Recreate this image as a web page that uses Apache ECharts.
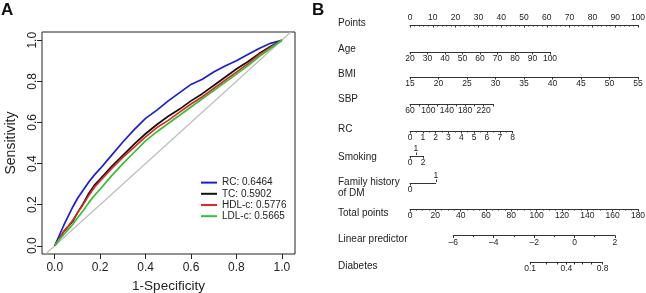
<!DOCTYPE html>
<html>
<head>
<meta charset="utf-8">
<script src="https://cdn.jsdelivr.net/npm/echarts@6/dist/echarts.min.js"></script>
<style>
  html, body { margin: 0; padding: 0; background: #fff; }
  #chart { width: 646px; height: 293px; }
</style>
</head>
<body>
<div id="chart"></div>
<script>
/* ---- panel A: ROC curves ---- */
const rocNames = ['RC: 0.6464', 'TC: 0.5902', 'HDL-c: 0.5776', 'LDL-c: 0.5665']
const rocColors = ['#1c1ce0', '#111111', '#ee2222', '#2ec42e']
const rocFpr = [0, .02, .04, .06, .08, .1, .125, .15, .175, .2, .25, .3, .35, .4, .45, .5, .55, .6, .65, .7, .75, .8, .85, .9, .95, 1]
const rcTpr  = [0, .05, .10, .145, .19, .23, .27, .31, .345, .375, .44, .505, .565, .62, .66, .705, .745, .785, .81, .845, .875, .90, .93, .96, .985, 1]
const tcTpr  = [0, .035, .07, .095, .12, .16, .205, .255, .295, .325, .385, .44, .495, .545, .59, .63, .665, .705, .74, .78, .82, .86, .895, .935, .97, 1]
const hdlTpr = [0, .035, .07, .095, .125, .16, .2, .245, .285, .315, .375, .43, .48, .53, .575, .61, .65, .69, .725, .765, .805, .845, .885, .93, .965, 1]
const ldlTpr = [0, .03, .055, .08, .105, .135, .17, .21, .245, .275, .34, .40, .455, .51, .555, .595, .635, .675, .715, .755, .795, .835, .875, .92, .96, 1]
const rocTicks = [0, 0.2, 0.4, 0.6, 0.8, 1.0]
const diagEnds = [-0.04, 1.04]

/* ---- panel B: nomogram scales ---- */
const pointsRange = [0, 100]
const ageRange = [20, 100], agePts = [0, 61.4]
const bmiRange = [15, 55], bmiPts = [0, 100]
const sbpRange = [60, 240], sbpPts = [0, 36.3], sbpLabels = [60, 100, 140, 180, 220]
const rcRange = [0, 8], rcPts = [0, 45]
const smokingLevels = ['0', '1', '2'], smokingPts = [0, 2.6, 5.7]
const familyLevels = ['0', '1'], familyPts = [0, 11.3]
const totalRange = [0, 180]
const lpRange = [-6, 2], lpTotal = [34.2, 161.8]
const diabetesProb = [0.1, 0.2, 0.3, 0.4, 0.5, 0.6, 0.7, 0.8]
const diabetesLabels = [0.1, 0.4, 0.8]

const rowNames = ['Points', 'Age', 'BMI', 'SBP', 'RC', 'Smoking', 'Family history\nof DM',
  'Total points', 'Linear predictor', 'Diabetes']
const rowNameY = [23, 49, 74, 99, 129, 157, 188, 213, 239, 266]

// pixel layout of the points scales
const PT_LEFT = 410, PT_W = 228
const ptX = p => PT_LEFT + p * PT_W / 100
const totX = t => PT_LEFT + t * PT_W / 180
const lpToTotal = l => lpTotal[0] + (l - lpRange[0]) * (lpTotal[1] - lpTotal[0]) / (lpRange[1] - lpRange[0])
const logit = p => Math.log(p / (1 - p))
const expit = l => 1 / (1 + Math.exp(-l))
const levelFmt = (pts, levels) => v => {
  let best = 0
  pts.forEach((p, i) => { if (Math.abs(p - v) < Math.abs(pts[best] - v)) best = i })
  return levels[best]
}

const INK = '#333'
const TICK_FS = 8.5
const grids = [{
  left: 42, top: 32, width: 253, height: 222,
  show: true, borderColor: '#222', borderWidth: 1, outerBoundsMode: 'none'
}]
const xAxes = [{
  gridIndex: 0, type: 'value', min: -0.056, max: 1.058,
  axisLine: { show: false, onZero: false }, splitLine: { show: false },
  axisTick: { customValues: rocTicks, length: 5, lineStyle: { color: '#222' } },
  axisLabel: { customValues: rocTicks, formatter: v => v.toFixed(1), fontSize: 12, margin: 8, color: '#222' },
  name: '1-Specificity', nameLocation: 'middle', nameGap: 23,
  nameTextStyle: { fontSize: 13.5, color: '#222' }
}]
const yAxes = [{
  gridIndex: 0, type: 'value', min: -0.04, max: 1.04,
  axisLine: { show: false, onZero: false }, splitLine: { show: false },
  axisTick: { customValues: rocTicks, length: 5, lineStyle: { color: '#222' } },
  axisLabel: { customValues: rocTicks, formatter: v => v.toFixed(1), fontSize: 12, margin: 3.5, rotate: 90, color: '#222' },
  name: 'Sensitivity', nameLocation: 'middle', nameGap: 24,
  nameTextStyle: { fontSize: 14, color: '#222' }
}]

// one thin grid per nomogram row
function addRow (y, x0, x1, axes, top) {
  const gi = grids.length
  grids.push({ left: x0, width: x1 - x0, top: top ? y : y - 1, height: 1, outerBoundsMode: 'none' })
  yAxes.push({ gridIndex: gi, show: false, min: 0, max: 1 })
  axes.forEach(a => {
    xAxes.push(Object.assign({
      gridIndex: gi, type: 'value', position: 'bottom',
      splitLine: { show: false },
      axisLine: { onZero: false, lineStyle: { color: INK, width: 1 } },
      axisTick: { length: 2.5, lineStyle: { color: INK } },
      axisLabel: { fontSize: TICK_FS, margin: 2.5, color: '#222', showMinLabel: true, showMaxLabel: true }
    }, a))
  })
}

addRow(25, ptX(0), ptX(100), [{
  min: pointsRange[0], max: pointsRange[1], interval: 10, position: 'top',
  axisTick: { inside: true, length: 2.5, lineStyle: { color: INK } },
  minorTick: { show: true, splitNumber: 5, length: 1.5, lineStyle: { color: INK } },
  axisLabel: { fontSize: TICK_FS, margin: 3, color: '#222' }
}], true)
addRow(52, ptX(agePts[0]), ptX(agePts[1]), [{ min: ageRange[0], max: ageRange[1], interval: 10 }])
addRow(77, ptX(bmiPts[0]), ptX(bmiPts[1]), [{ min: bmiRange[0], max: bmiRange[1], interval: 5 }])
addRow(104, ptX(sbpPts[0]), ptX(sbpPts[1]), [{
  min: sbpRange[0], max: sbpRange[1], interval: 20,
  axisLabel: { customValues: sbpLabels, fontSize: TICK_FS, margin: 2.5, color: '#222' }
}])
addRow(131, ptX(rcPts[0]), ptX(rcPts[1]), [{
  min: rcRange[0], max: rcRange[1], interval: 1,
  minorTick: { show: true, splitNumber: 2, length: 1.5, lineStyle: { color: INK } }
}])
addRow(156, ptX(smokingPts[0]), ptX(smokingPts[2]), [{
  min: smokingPts[0], max: smokingPts[2],
  axisTick: { customValues: [smokingPts[0], smokingPts[2]], length: 2.5, lineStyle: { color: INK } },
  axisLabel: { customValues: [smokingPts[0], smokingPts[2]], formatter: levelFmt(smokingPts, smokingLevels), fontSize: TICK_FS, margin: 2.5, color: '#222' }
}, {
  min: smokingPts[0], max: smokingPts[2], position: 'top', axisLine: { show: false, onZero: false },
  axisTick: { customValues: [smokingPts[1]], length: 2.5, lineStyle: { color: INK } },
  axisLabel: { customValues: [smokingPts[1]], formatter: levelFmt(smokingPts, smokingLevels), fontSize: TICK_FS, margin: 2, color: '#222' }
}])
addRow(183, ptX(familyPts[0]), ptX(familyPts[1]), [{
  min: familyPts[0], max: familyPts[1],
  axisTick: { customValues: [familyPts[0]], length: 2.5, lineStyle: { color: INK } },
  axisLabel: { customValues: [familyPts[0]], formatter: levelFmt(familyPts, familyLevels), fontSize: TICK_FS, margin: 2.5, color: '#222' }
}, {
  min: familyPts[0], max: familyPts[1], position: 'top', axisLine: { show: false, onZero: false },
  axisTick: { customValues: [familyPts[1]], length: 2.5, lineStyle: { color: INK } },
  axisLabel: { customValues: [familyPts[1]], formatter: levelFmt(familyPts, familyLevels), fontSize: TICK_FS, margin: 2, color: '#222' }
}])
addRow(209, totX(totalRange[0]), totX(totalRange[1]), [{
  min: totalRange[0], max: totalRange[1], interval: 20,
  minorTick: { show: true, splitNumber: 4, length: 1.5, lineStyle: { color: INK } }
}])
addRow(235.5, totX(lpTotal[0]), totX(lpTotal[1]), [{
  min: lpRange[0], max: lpRange[1], interval: 2,
  minorTick: { show: true, splitNumber: 2, length: 1.5, lineStyle: { color: INK } },
  axisLabel: { fontSize: TICK_FS, margin: 2.5, color: '#222', formatter: v => String(v).replace('-', '\u2013') }
}])
const dMin = logit(diabetesProb[0]), dMax = logit(diabetesProb[diabetesProb.length - 1])
addRow(262, totX(lpToTotal(dMin)), totX(lpToTotal(dMax)), [{
  min: dMin, max: dMax,
  axisTick: { customValues: diabetesProb.map(logit), length: 2.5, lineStyle: { color: INK } },
  axisLabel: { customValues: diabetesLabels.map(logit), formatter: v => expit(v).toFixed(1), fontSize: TICK_FS, margin: 2.5, color: '#222' }
}])

const series = [{
  type: 'line', name: 'diag', xAxisIndex: 0, yAxisIndex: 0,
  data: [[diagEnds[0], diagEnds[0]], [diagEnds[1], diagEnds[1]]],
  symbol: 'none', lineStyle: { color: '#bdbdbd', width: 1.2 }, silent: true
}]
const tprs = [rcTpr, tcTpr, hdlTpr, ldlTpr]
rocNames.forEach((name, i) => {
  series.push({
    type: 'line', name, xAxisIndex: 0, yAxisIndex: 0,
    data: rocFpr.map((f, j) => [f, tprs[i][j]]),
    symbol: 'none', color: rocColors[i],
    lineStyle: { color: rocColors[i], width: 1.7 }
  })
})

const graphic = [
  { type: 'text', left: 1, top: 2, style: { text: 'A', font: 'bold 17px "Liberation Sans", Arial, sans-serif', fill: '#111' } },
  { type: 'text', left: 312, top: 2, style: { text: 'B', font: 'bold 17px "Liberation Sans", Arial, sans-serif', fill: '#111' } }
]
rowNames.forEach((t, i) => {
  graphic.push({
    type: 'text', x: 338, y: rowNameY[i],
    style: { text: t, font: '10px "Liberation Sans", Arial, sans-serif', fill: '#222', verticalAlign: 'middle', lineHeight: 11 }
  })
})

const chart = echarts.init(document.getElementById('chart'), null, { renderer: 'canvas' })
chart.setOption({
  animation: false,
  backgroundColor: '#fff',
  textStyle: { fontFamily: '"Liberation Sans", Arial, sans-serif' },
  grid: grids,
  xAxis: xAxes,
  yAxis: yAxes,
  legend: {
    data: rocNames, orient: 'vertical', left: 196, top: 172,
    icon: 'rect', itemWidth: 16, itemHeight: 2, itemGap: 0,
    textStyle: { fontSize: 10, lineHeight: 11.2, color: '#222' }
  },
  graphic,
  series
})
</script>
</body>
</html>
